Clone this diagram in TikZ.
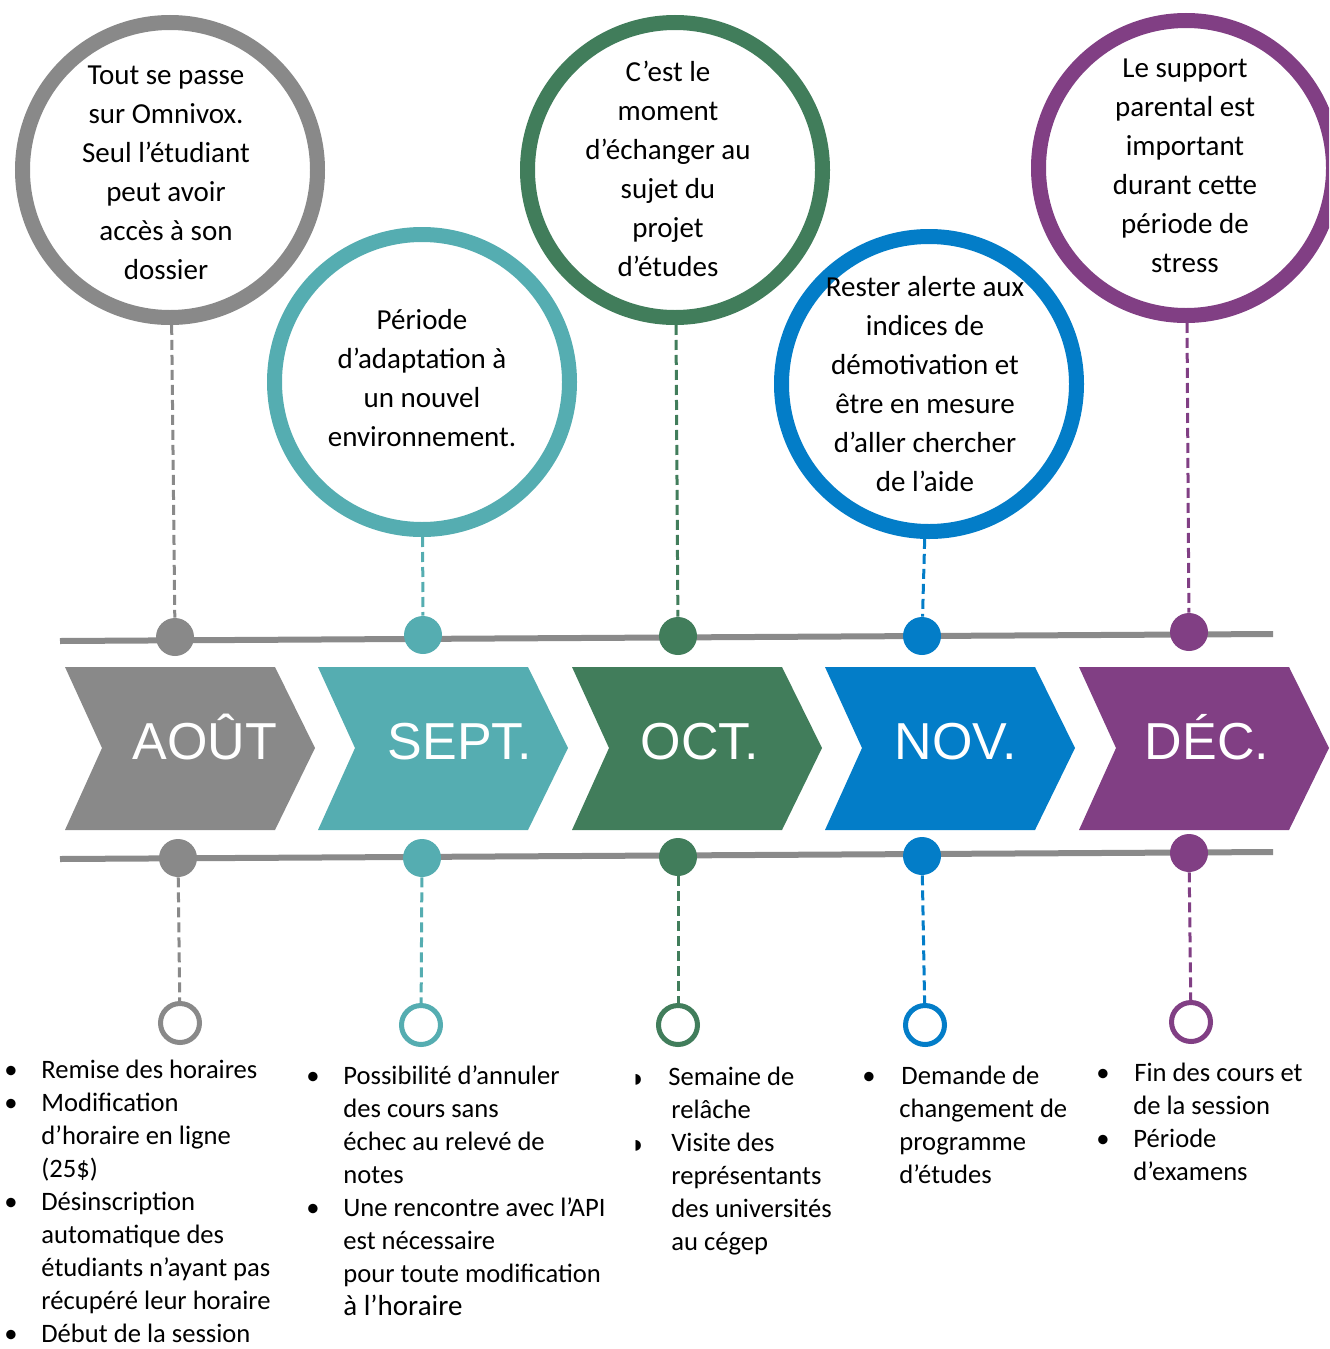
\documentclass[tikz,border=0pt]{standalone}
\usepackage{fontspec}
\setmainfont{Carlito}
\newfontfamily\arialf{Liberation Sans}
\newfontfamily\dejavu{DejaVu Sans}
\definecolor{cgray}{HTML}{898989}
\definecolor{cteal}{HTML}{55ADB1}
\definecolor{cgreen}{HTML}{417D5B}
\definecolor{cblue}{HTML}{037DC8}
\definecolor{cpurple}{HTML}{813F84}
\definecolor{cline}{HTML}{8A8A8A}
\newlength\bw
\setlength\bw{18.5pt}
\newcommand\bul{\makebox[\bw][l]{\textbullet}}
\newcommand\tri{\makebox[\bw][l]{\raisebox{1pt}{\dejavu\fontsize{7}{7}\selectfont ◗}}}
\newcommand\ind{\hspace*{\bw}}
\begin{document}
\begin{tikzpicture}[x=0.5pt,y=-0.5pt,
  bigc/.style={circle, draw=#1, line width=7.5pt, fill=white, minimum size=147.5pt, inner sep=0pt},
  ctext/.style={inner sep=0pt, align=center, font=\fontsize{14.5}{19.5}\selectfont},
  dotc/.style={circle, fill=#1, minimum size=19pt, inner sep=0pt},
  openc/.style={circle, draw=#1, line width=2.5pt, fill=white, minimum size=19.5pt, inner sep=0pt},
  link/.style={draw=#1, line width=1.5pt, dash pattern=on 5pt off 2.5pt},
  mlabel/.style={text=white, inner sep=0pt, anchor=base, font=\arialf\fontsize{26}{30}\selectfont},
  listn/.style={anchor=base west, inner sep=0pt, align=left, font=\fontsize{13.3}{16.5}\selectfont},
  hline/.style={draw=cline, line width=3pt}
]
\useasboundingbox (0,0) rectangle (1329,1349);
\clip (0,0) rectangle (1329,1349);

% chevrons
\foreach \L/\col in {65/cgray,318/cteal,572/cgreen,825/cblue,1079/cpurple}{
  \fill[\col] (\L,667) -- (\L+210,667) -- (\L+250,748) -- (\L+210,830) -- (\L,830) -- (\L+37,748) -- cycle;
}
\node[mlabel] (m1) at (205,759) {AOÛT};
\node[mlabel] (m2) at (460,759) {SEPT.};
\node[mlabel] (m3) at (700,759) {OCT.};
\node[mlabel] (m4) at (956,759) {NOV.};
\node[mlabel] (m5) at (1207,759) {DÉC.};

% timeline lines
\draw[hline] (60,641) -- (1273,634);
\draw[hline] (60,859) -- (1273,852);

% big circles
\node[bigc=cgray]   (c1) at (170,170) {};
\node[bigc=cteal]   (c2) at (422,382) {};
\node[bigc=cgreen]  (c3) at (675,170) {};
\node[bigc=cblue]   (c4) at (929,384) {};
\node[bigc=cpurple] (c5) at (1186,168) {};
\node[ctext] (ct1) at (166,173) {Tout se passe\\sur Omnivox.\\Seul l’étudiant\\peut avoir\\accès à son\\dossier};
\node[ctext] (ct2) at (422,378) {Période\\d’adaptation à\\un nouvel\\environnement.};
\node[ctext] (ct3) at (668,169) {C’est le\\moment\\d’échanger au\\sujet du\\projet\\d’études};
\node[ctext] (ct4) at (925,384) {Rester alerte aux\\indices de\\démotivation et\\être en mesure\\d’aller chercher\\de l’aide};
\node[ctext] (ct5) at (1185,166) {Le support\\parental est\\important\\durant cette\\période de\\stress};

% dots
\node[dotc=cgray]   (t1) at (175,637) {};
\node[dotc=cteal]   (t2) at (423,635) {};
\node[dotc=cgreen]  (t3) at (678,636) {};
\node[dotc=cblue]   (t4) at (922,636) {};
\node[dotc=cpurple] (t5) at (1189,632) {};
\node[dotc=cgray]   (b1) at (178,858) {};
\node[dotc=cteal]   (b2) at (422,858) {};
\node[dotc=cgreen]  (b3) at (678,857) {};
\node[dotc=cblue]   (b4) at (922,856) {};
\node[dotc=cpurple] (b5) at (1189,853) {};

% open circles
\node[openc=cgray]   (o1) at (180,1023) {};
\node[openc=cteal]   (o2) at (421,1025) {};
\node[openc=cgreen]  (o3) at (678,1025) {};
\node[openc=cblue]   (o4) at (925,1025) {};
\node[openc=cpurple] (o5) at (1191,1022) {};

% dashed connectors
\draw[link=cgray]   (c1) -- (t1);
\draw[link=cteal]   (c2) -- (t2);
\draw[link=cgreen]  (c3) -- (t3);
\draw[link=cblue]   (c4) -- (t4);
\draw[link=cpurple] (c5) -- (t5);
\draw[link=cgray]   (b1) -- (o1);
\draw[link=cteal]   (b2) -- (o2);
\draw[link=cgreen]  (b3) -- (o3);
\draw[link=cblue]   (b4) -- (o4);
\draw[link=cpurple] (b5) -- (o5);

% lists (anchored at the baseline of the last line)
\node[listn] (l1) at (4,1342) {\bul Remise des horaires\\\bul Modification\\\ind d’horaire en ligne\\\ind (25\$)\\\bul Désinscription\\\ind automatique des\\\ind étudiants n’ayant pas\\\ind récupéré leur horaire\\\bul Début de la session};
\node[listn] (l2) at (306,1315) {\setlength\bw{18.5pt}\bul Possibilité d’annuler\\\ind des cours sans\\\ind échec au relevé de\\\ind notes\\\bul Une rencontre avec l’API\\\ind est nécessaire\\\ind pour toute modification\\\ind{\fontsize{14.5}{16.5}\selectfont à l’horaire}};
\node[listn] (l3) at (634,1250) {\setlength\bw{17pt}\tri Semaine de\\\ind relâche\\\tri Visite des\\\ind représentants\\\ind des universités\\\ind au cégep};
\node[listn] (l4) at (862,1183) {\setlength\bw{19.5pt}\bul Demande de\\\ind changement de\\\ind programme\\\ind d’études};
\node[listn] (l5) at (1096,1180) {\setlength\bw{19pt}\bul Fin des cours et\\\ind de la session\\\bul Période\\\ind d’examens};
\end{tikzpicture}
\end{document}
